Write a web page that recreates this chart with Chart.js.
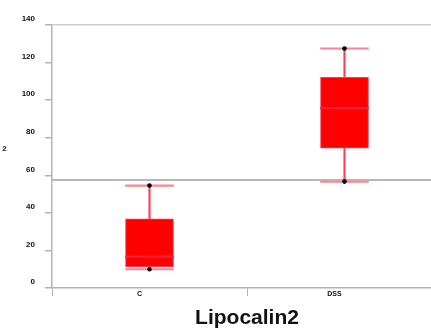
<!DOCTYPE html>
<html>
<head>
<meta charset="utf-8">
<script src="https://cdn.jsdelivr.net/npm/chart.js@4.4.1/dist/chart.umd.min.js"></script>
<style>
  html, body { margin: 0; padding: 0; background: #fff; }
  #wrap { width: 431px; height: 336px; overflow: hidden; position: relative; }
  #inner { width: 488px; height: 336px; }
</style>
</head>
<body>
<div id="wrap"><div id="inner"><canvas id="myChart" width="488" height="336"></canvas></div></div>
<script>
// data
var groups = ['C', 'DSS'];
var whiskerMin = [10.1, 56.7];
var q1 = [11.5, 74.5];
var median = [16.8, 95.8];
var q3 = [36.9, 112.1];
var whiskerMax = [54.6, 127.5];
var refLine = 57.6;
var yTicks = [0, 20, 40, 60, 80, 100, 120, 140];
var yTitle = '2';
var chartTitle = 'Lipocalin2';

var axisGray = '#b4b4b4';

// horizontal reference line + cut y title
var extras = {
    id: 'extras',
    beforeDatasetsDraw: function(chart) {
        var c = chart.ctx, a = chart.chartArea;
        var y = chart.scales.y.getPixelForValue(refLine);
        c.save();
        c.strokeStyle = '#b8b8b8';
        c.lineWidth = 2;
        c.beginPath();
        c.moveTo(a.left, y);
        c.lineTo(a.right, y);
        c.stroke();
        c.restore();
    },
    afterDraw: function(chart) {
        var c = chart.ctx;
        c.save();
        c.fillStyle = '#222';
        c.font = 'bold 8px "Liberation Sans", Arial, sans-serif';
        c.textAlign = 'center';
        c.textBaseline = 'middle';
        c.fillText(yTitle, 4.5, 148.5);
        c.restore();
    }
};

function band(arr, h) {
    return arr.map(function(v) { return [v - h, v + h]; });
}
function range(a, b) {
    return a.map(function(v, i) { return [v, b[i]]; });
}

var ctx = document.getElementById('myChart').getContext('2d');
var myChart = new Chart(ctx, {
    type: 'bar',
    data: {
        labels: groups,
        datasets: [
            {
                type: 'line',
                label: 'max',
                data: whiskerMax,
                showLine: false,
                pointRadius: 2.3,
                pointBackgroundColor: '#000',
                pointBorderWidth: 0,
                order: 0
            },
            {
                type: 'line',
                label: 'min',
                data: whiskerMin,
                showLine: false,
                pointRadius: 2.3,
                pointBackgroundColor: '#000',
                pointBorderWidth: 0,
                order: 0
            },
            {
                label: 'median',
                data: band(median, 0.4),
                backgroundColor: '#f0203c',
                barThickness: 48,
                grouped: false,
                order: 1
            },
            {
                label: 'box',
                data: range(q1, q3),
                backgroundColor: '#ff0000',
                borderColor: '#ff3a55',
                borderWidth: 1,
                borderSkipped: false,
                barThickness: 48,
                grouped: false,
                order: 2
            },
            {
                label: 'capMax',
                data: band(whiskerMax, 0.4),
                backgroundColor: '#ff8393',
                barThickness: 48,
                grouped: false,
                order: 3
            },
            {
                label: 'capMin',
                data: band(whiskerMin, 0.4),
                backgroundColor: '#ff8393',
                barThickness: 48,
                grouped: false,
                order: 3
            },
            {
                label: 'whisker',
                data: range(whiskerMin, whiskerMax),
                backgroundColor: '#ff4058',
                barThickness: 1.5,
                grouped: false,
                order: 4
            }
        ]
    },
    options: {
        responsive: false,
        animation: false,
        layout: {
            padding: { top: 25, right: 46, left: 0, bottom: 0 }
        },
        plugins: {
            legend: { display: false },
            tooltip: { enabled: false },
            title: {
                display: true,
                fullSize: false,
                text: chartTitle,
                position: 'bottom',
                color: '#111',
                font: { family: '"Liberation Sans", Arial, sans-serif', size: 21, weight: 'bold', lineHeight: 1.2 },
                padding: { top: 0, bottom: 5 }
            }
        },
        scales: {
            x: {
                offset: true,
                grid: {
                    offset: true,
                    drawOnChartArea: false,
                    color: axisGray,
                    tickLength: 8
                },
                border: { color: axisGray, width: 1.5 },
                ticks: {
                    color: '#111',
                    font: { family: '"Liberation Sans", Arial, sans-serif', size: 7, weight: 'bold' },
                    padding: -6,
                    labelOffset: -10,
                    maxRotation: 0
                },
                afterFit: function(scale) { scale.height = 17.6; }
            },
            y: {
                min: 0,
                max: 140,
                afterBuildTicks: function(scale) {
                    scale.ticks = yTicks.map(function(v) { return { value: v }; });
                },
                grid: {
                    color: function(c) { return c.tick && c.tick.value === 140 ? '#d0d0d0' : 'rgba(0,0,0,0)'; },
                    lineWidth: 1.5,
                    tickColor: axisGray,
                    tickLength: 7
                },
                border: { color: axisGray, width: 1.5 },
                ticks: {
                    color: '#111',
                    font: { family: '"Liberation Sans", Arial, sans-serif', size: 8, weight: 'bold' },
                    padding: 10,
                    labelOffset: -6
                },
                afterFit: function(scale) { scale.width = 52; }
            }
        }
    },
    plugins: [extras]
});
</script>
</body>
</html>
